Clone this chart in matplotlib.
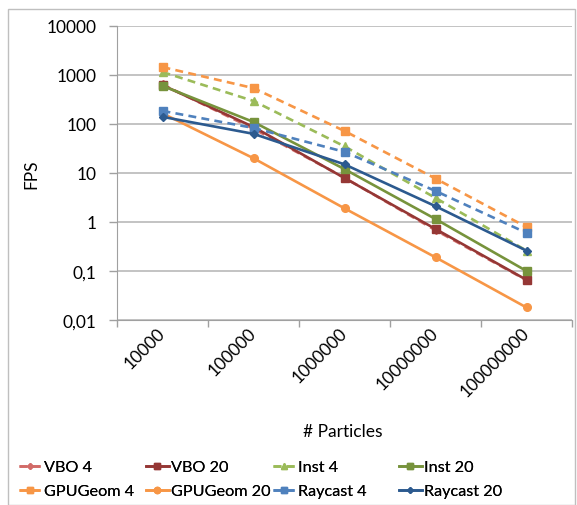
import matplotlib
matplotlib.use('Agg')
import matplotlib.pyplot as plt
from matplotlib.lines import Line2D
from matplotlib.patches import Rectangle
import numpy as np

plt.rcParams['font.family'] = ['Lato', 'DejaVu Sans']

# particle counts (categories on the x axis)
particles = ['10000', '100000', '1000000', '10000000', '100000000']

# FPS per renderer
vbo_4 = [640, 80, 8.0, 0.68, 0.065]
vbo_20 = [620, 87, 7.9, 0.72, 0.066]
inst_4 = [1150, 295, 35, 3.1, 0.26]
inst_20 = [600, 110, 12, 1.15, 0.1]
gpugeom_4 = [1450, 540, 72, 7.7, 0.79]
gpugeom_20 = [165, 20, 1.9, 0.19, 0.018]
raycast_4 = [185, 83, 27, 4.3, 0.6]
raycast_20 = [140, 63, 15, 2.1, 0.26]

y_ticks = [0.01, 0.1, 1, 10, 100, 1000, 10000]
y_labels = ['0,01', '0,1', '1', '10', '100', '1000', '10000']

series = [
    ('VBO 4', vbo_4, '#D26B68', '--', 'D', 4),
    ('VBO 20', vbo_20, '#953735', '-', 's', 5.5),
    ('Inst 4', inst_4, '#9BBB59', '--', '^', 6),
    ('Inst 20', inst_20, '#77933C', '-', 's', 5.5),
    ('GPUGeom 4', gpugeom_4, '#F79646', '--', 's', 5.5),
    ('GPUGeom 20', gpugeom_20, '#F79646', '-', 'o', 5.5),
    ('Raycast 4', raycast_4, '#4F81BD', '--', 's', 5.5),
    ('Raycast 20', raycast_20, '#2C5A8F', '-', 'D', 4),
]

FS = 12.5
W, H = 577, 506
fig = plt.figure(figsize=(W / 100, H / 100), dpi=100)
ax = fig.add_axes([117 / W, 1 - 321 / H, (572 - 117) / W, (321 - 27) / H])

x = np.arange(len(particles))
for name, vals, col, ls, mk, ms in series:
    ax.plot(x, vals, color=col, linestyle=ls if ls == '-' else (0, (3, 2)),
            lw=1.9, marker=mk, markersize=ms, markeredgecolor=col, label=name)

ax.set_yscale('log')
ax.set_ylim(0.01, 10000)
ax.set_xlim(-0.5, len(particles) - 0.5)
ax.set_yticks(y_ticks)
ax.set_yticklabels(y_labels)
ax.yaxis.set_minor_locator(matplotlib.ticker.NullLocator())
ax.set_xticks(np.arange(len(particles) + 1) - 0.5)
ax.set_xticklabels([])
ax.set_xticks(x, minor=True)
ax.set_xticklabels(particles, minor=True, rotation=45, ha='right',
                   va='center', rotation_mode='anchor')
ax.tick_params(axis='x', which='minor', length=0, pad=7, labelsize=FS)
ax.tick_params(axis='x', which='major', length=5, color='#A0A0A0', width=1)
ax.tick_params(axis='y', length=6, color='#A0A0A0', width=1, labelsize=FS, pad=9)

ax.grid(axis='y', which='major', color='#BEBEBE', lw=1.3)
ax.set_axisbelow(True)
for s in ['top', 'right']:
    ax.spines[s].set_visible(False)
for s in ['left', 'bottom']:
    ax.spines[s].set_color('#A0A0A0')

ax.set_ylabel('FPS', fontsize=FS, labelpad=5)
fig.text(343 / W, 1 - 432 / H, '# Particles', ha='center', va='center', fontsize=FS)

# legend in four equal columns like Excel
col_x = [19, 146, 273, 399]
for c in range(4):
    handles = []
    for r in range(2):
        name, vals, col, ls, mk, ms = series[r * 4 + c]
        handles.append(Line2D([], [], color=col, linestyle=ls if ls == '-' else (0, (3, 2)),
                              lw=1.9, marker=mk, markersize=ms - 1, markeredgecolor=col, label=name))
    leg = fig.legend(handles=handles, loc='upper left',
                     bbox_to_anchor=(col_x[c] / W, 1 - 461 / H),
                     frameon=False, fontsize=11.7, handlelength=1.4,
                     handletextpad=0.12, labelspacing=0.6, borderaxespad=0,
                     borderpad=0)
    fig.add_artist(leg)

fig.patches.append(Rectangle((8 / W, 0), (575 - 8) / W, 1 - 10 / H,
                             transform=fig.transFigure, fill=False,
                             edgecolor='#BFBFBF', lw=1))

fig.savefig('out.png', dpi=100)
